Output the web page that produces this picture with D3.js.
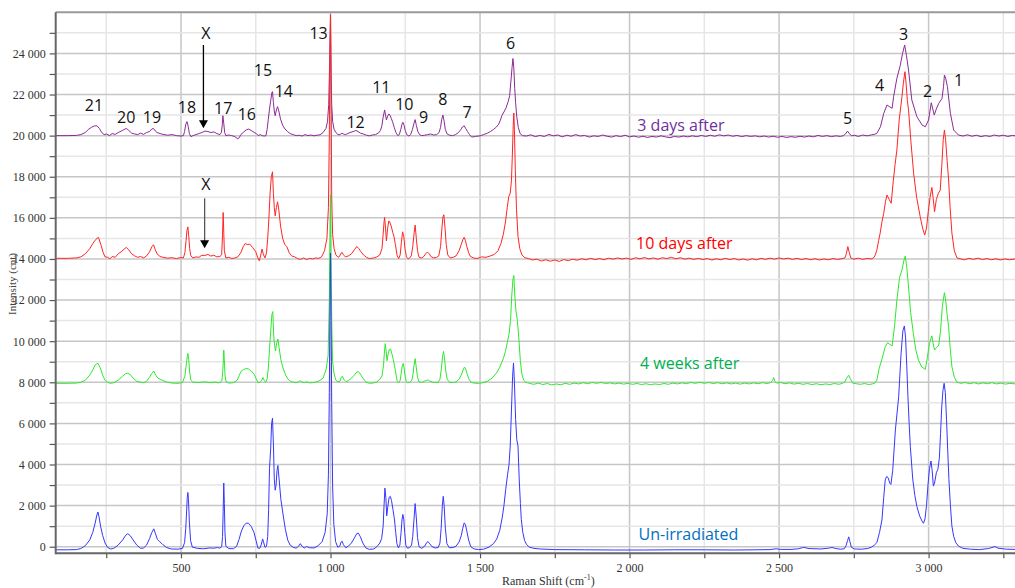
<!DOCTYPE html>
<html>
<head>
<meta charset="utf-8">
<script src="https://cdn.jsdelivr.net/npm/d3@7"></script>
<style>
  body { margin: 0; background: #fff; }
  svg { display: block; }
</style>
</head>
<body>
<svg id="chart"></svg>
<script>
const width = 1015, height = 588;
const plot = { left: 55.7, right: 1015.3, top: 12.3, bottom: 553.3 };

// Axis ticks (Raman shift in cm-1, intensity in counts)
const xTicks = [250, 500, 750, 1000, 1250, 1500, 1750, 2000, 2250, 2500, 2750, 3000, 3250];
const xLabelTicks = [500, 1000, 1500, 2000, 2500, 3000];
const yTicks = [0, 1000, 2000, 3000, 4000, 5000, 6000, 7000, 8000, 9000, 10000, 11000, 12000,
  13000, 14000, 15000, 16000, 17000, 18000, 19000, 20000, 21000, 22000, 23000, 24000, 25000];
const yLabelTicks = [0, 2000, 4000, 6000, 8000, 10000, 12000, 14000, 16000, 18000, 20000, 22000, 24000];

// 3 days after (offset baseline ~20 000)
const threeDays = [
  [82,20000],[120,20000],[150,20010],[165,20050],[180,20150],[190,20300],[200,20400],[210,20470],[219,20480],[227,20350],
  [235,20150],[243,20050],[252,20080],[260,20000],[270,20100],[280,20060],[290,20150],[300,20220],[310,20300],[317,20350],
  [325,20260],[335,20120],[345,20080],[355,20050],[365,20120],[375,20060],[385,20150],[395,20200],[402,20320],[408,20350],
  [414,20230],[420,20150],[430,20100],[440,20060],[455,20020],[470,20050],[485,20000],[500,19980],[508,20000],[512,20200],
  [516,20550],[520,20680],[524,20450],[528,20100],[533,19950],[540,20000],[550,20050],[560,20100],[570,20150],[580,20220],
  [590,20200],[600,20150],[610,20180],[620,20100],[630,20050],[635,20150],[638,20500],[640,20970],[643,20600],[646,20150],
  [650,20000],[660,20030],[670,20000],[680,19950],[690,19850],[695,19900],[700,20050],[710,20180],[718,20280],[726,20320],
  [735,20250],[745,20150],[752,20100],[758,20000],[765,20050],[772,20000],[778,19980],[784,20000],[788,20300],[792,20800],
  [796,21300],[800,21700],[804,22100],[806,22140],[809,21600],[812,21200],[815,20970],[819,21250],[823,21410],[827,21200],
  [833,20800],[840,20500],[848,20320],[856,20200],[865,20100],[875,20050],[885,20000],[895,20020],[905,19980],[915,20050],
  [925,20000],[935,20030],[945,19990],[955,20020],[965,20040],[975,20150],[985,20350],[990,20700],[994,21500],[997,23500],
  [1000,25640],[1002,23000],[1004,21500],[1007,20700],[1012,20300],[1018,20150],[1025,20050],[1032,20050],[1038,20120],[1043,20080],
  [1050,20050],[1058,20100],[1065,20150],[1072,20180],[1080,20220],[1085,20250],[1092,20200],[1100,20120],[1110,20080],[1120,20020],
  [1130,19990],[1140,20030],[1150,20050],[1160,20120],[1167,20250],[1172,20500],[1176,20900],[1181,21250],[1184,21000],[1187,20760],
  [1191,20950],[1195,21050],[1199,21000],[1203,20850],[1208,20650],[1213,20400],[1219,20150],[1225,20000],[1230,20050],[1235,20300],
  [1239,20550],[1242,20650],[1246,20500],[1250,20250],[1255,20050],[1262,19980],[1268,20050],[1274,20300],[1279,20600],[1283,20780],
  [1287,20500],[1292,20200],[1298,20050],[1305,20000],[1315,20020],[1325,20050],[1335,20080],[1345,20030],[1355,20050],[1363,20150],
  [1368,20400],[1372,20800],[1376,21000],[1380,20700],[1384,20300],[1390,20080],[1398,20020],[1408,20000],[1418,20050],[1428,20150],
  [1436,20300],[1441,20420],[1447,20480],[1452,20350],[1458,20200],[1465,20050],[1472,19930],[1485,19960],[1500,19990],[1512,20050],
  [1525,20120],[1535,20200],[1545,20300],[1555,20420],[1562,20550],[1568,20750],[1573,20970],[1580,21150],[1587,21350],[1594,21650],
  [1599,21940],[1603,22600],[1607,23300],[1610,23750],[1613,23300],[1616,22300],[1619,21600],[1623,20900],[1628,20400],[1634,20100],
  [1642,20000],[1655,19980],[1670,20040],[1685,19950],[1700,20010],[1715,19960],[1730,20060],[1745,19990],[1760,20030],[1775,19940],
  [1790,20020],[1805,19970],[1820,20050],[1835,19980],[1850,20010],[1865,19930],[1880,19990],[1895,19960],[1910,20030],[1925,19970],
  [1940,19930],[1955,20000],[1970,19950],[1985,20020],[2000,19940],[2015,19980],[2030,19920],[2045,19970],[2060,19910],[2075,19960],
  [2090,19930],[2105,19990],[2120,19940],[2135,19900],[2150,19960],[2165,19930],[2180,19980],[2195,19940],[2210,19990],[2225,19950],
  [2240,20010],[2255,19960],[2270,20020],[2285,19970],[2300,20040],[2315,19990],[2330,20030],[2345,19970],[2360,20010],[2375,19950],
  [2390,20000],[2405,19960],[2420,19990],[2435,19940],[2450,19980],[2465,19930],[2480,19970],[2495,19920],[2510,19960],[2525,19910],
  [2540,19950],[2555,19920],[2570,19970],[2585,19930],[2600,19980],[2615,19940],[2630,20010],[2645,19960],[2660,20000],[2675,19950],
  [2690,19990],[2705,19960],[2715,20000],[2722,20080],[2729,20220],[2735,20100],[2742,19990],[2752,20020],[2765,19960],[2780,20030],
  [2795,19990],[2810,20040],[2820,20070],[2827,20110],[2839,20430],[2850,21080],[2861,21490],[2870,21400],[2878,21330],[2883,21890],
  [2894,22790],[2905,23400],[2913,24000],[2920,24410],[2926,23900],[2933,23190],[2944,21730],[2961,20920],[2978,20520],[2989,20430],
  [3000,20760],[3009,21600],[3014,21300],[3019,21000],[3026,21300],[3034,21570],[3045,21810],[3050,22400],[3053,22950],[3057,22800],
  [3063,22380],[3073,21080],[3084,20270],[3100,20030],[3115,19980],[3130,20040],[3145,19970],[3160,20020],[3175,19950],[3190,20000],
  [3205,19960],[3220,20030],[3235,19980],[3250,20020],[3265,19960],[3280,20010],[3290,19990]
];

// 10 days after (offset baseline ~14 000)
const tenDays = [
  [82,14030],[120,14030],[150,14050],[165,14100],[180,14250],[195,14500],[205,14750],[215,14950],[224,15050],[232,14700],
  [240,14300],[246,14100],[255,14080],[262,14000],[270,14120],[280,14080],[290,14250],[300,14350],[310,14480],[317,14560],
  [325,14450],[335,14250],[345,14150],[355,14080],[365,14120],[375,14050],[385,14150],[395,14350],[403,14600],[408,14690],
  [414,14450],[420,14250],[430,14120],[440,14080],[455,14040],[470,14060],[485,14020],[500,14070],[508,14050],[513,14300],
  [517,14900],[520,15400],[523,15560],[526,15100],[529,14500],[533,14150],[540,14050],[550,14100],[560,14080],[570,14180],
  [580,14170],[590,14220],[600,14140],[610,14180],[620,14100],[630,14120],[636,14200],[639,15200],[641,16260],[643,15300],
  [645,14400],[650,14050],[660,14080],[670,14020],[680,14050],[690,14100],[700,14300],[708,14600],[715,14750],[722,14700],
  [730,14720],[740,14550],[750,14350],[757,14050],[762,13910],[766,14150],[771,14480],[776,14200],[781,14050],[786,14300],
  [790,15000],[794,16000],[798,17200],[802,18000],[806,18240],[809,17200],[812,16500],[815,16100],[819,16500],[823,16780],
  [827,16400],[833,15600],[840,15000],[847,14700],[854,14600],[862,14300],[870,14150],[880,14100],[890,14020],[900,13980],
  [910,14050],[920,13970],[930,14030],[940,14000],[950,14050],[960,14030],[970,14100],[980,14400],[988,15000],[993,16500],
  [996,20000],[998,24000],[1000,25900],[1002,22000],[1004,17000],[1007,15200],[1012,14500],[1018,14200],[1025,14080],[1030,14120],
  [1035,14280],[1039,14320],[1043,14200],[1050,14100],[1060,14150],[1070,14250],[1080,14450],[1088,14610],[1095,14500],[1102,14350],
  [1110,14200],[1120,14080],[1130,14020],[1145,14050],[1155,14100],[1165,14200],[1172,14500],[1176,15200],[1179,15800],[1181,16020],
  [1184,15500],[1187,14880],[1191,15500],[1195,15850],[1198,15800],[1203,15600],[1208,15300],[1212,15100],[1217,14700],[1223,14150],
  [1228,14020],[1233,14200],[1237,14800],[1241,15320],[1245,15100],[1249,14500],[1254,14100],[1260,14000],[1265,14050],[1270,14150],
  [1275,14600],[1280,15300],[1283,15650],[1287,15000],[1291,14400],[1296,14080],[1305,14050],[1312,14120],[1318,14250],[1324,14340],
  [1330,14250],[1337,14100],[1345,14050],[1355,14080],[1362,14150],[1368,14600],[1372,15400],[1376,16050],[1379,16150],[1383,15500],
  [1387,14700],[1392,14200],[1400,14050],[1410,14080],[1420,14150],[1430,14400],[1437,14700],[1443,14950],[1447,15050],[1451,14900],
  [1456,14600],[1462,14300],[1468,14120],[1478,14050],[1490,14020],[1505,14100],[1520,14080],[1535,14150],[1548,14220],[1560,14400],
  [1570,14750],[1578,15200],[1585,15800],[1591,16500],[1596,17030],[1601,17200],[1605,17800],[1608,19000],[1611,20500],[1613,21100],
  [1615,20300],[1618,18300],[1622,16400],[1627,15100],[1633,14500],[1640,14200],[1650,14060],[1662,14020],[1675,13950],[1690,13990],
  [1705,13900],[1720,13960],[1735,13890],[1750,13950],[1765,13880],[1780,13970],[1795,13920],[1810,13990],[1825,13940],[1840,14010],
  [1855,13960],[1870,14030],[1885,13970],[1900,14020],[1915,13960],[1930,14040],[1945,13990],[1960,14050],[1975,14000],[1990,14040],
  [2005,13980],[2020,14060],[2035,14010],[2050,14070],[2065,14000],[2080,14050],[2095,13990],[2110,14060],[2125,14020],[2140,14080],
  [2155,14010],[2170,14060],[2185,13990],[2200,14040],[2215,13980],[2230,14030],[2245,13970],[2260,14020],[2275,13950],[2290,14010],
  [2305,13960],[2320,14030],[2335,13970],[2350,14020],[2365,13950],[2380,14000],[2395,13940],[2410,14010],[2425,13960],[2440,14030],
  [2455,13980],[2470,14040],[2485,13990],[2500,14050],[2515,14000],[2530,14040],[2545,13980],[2560,14030],[2575,13970],[2590,14020],
  [2605,13960],[2620,14010],[2635,13950],[2650,14000],[2665,13960],[2680,14020],[2695,13980],[2710,14010],[2720,14050],[2725,14250],
  [2730,14600],[2735,14300],[2740,14050],[2750,13990],[2765,14040],[2780,13980],[2795,14030],[2808,14000],[2816,14050],[2822,14200],
  [2827,14430],[2833,14900],[2838,15250],[2844,15800],[2850,16220],[2856,16800],[2861,17110],[2868,16900],[2875,16710],[2882,17800],
  [2888,18600],[2894,19300],[2902,20800],[2911,21890],[2916,22600],[2921,23110],[2925,22500],[2929,21700],[2933,21250],[2941,19700],
  [2950,18170],[2960,17000],[2972,16050],[2980,15500],[2987,15160],[2993,15500],[2999,16300],[3005,17000],[3011,17480],[3015,17000],
  [3020,16300],[3026,16900],[3033,17200],[3039,17350],[3044,18500],[3049,19800],[3053,20270],[3057,19800],[3062,18800],[3067,17840],
  [3072,16500],[3078,15260],[3086,14400],[3095,14050],[3105,14010],[3120,13960],[3135,14030],[3150,13980],[3165,14040],[3180,13970],
  [3195,14020],[3210,13960],[3225,14010],[3240,13950],[3255,14000],[3270,13960],[3290,14000]
];

// 4 weeks after (offset baseline ~8 000)
const fourWeeks = [
  [82,7950],[120,7950],[150,7960],[165,8000],[180,8100],[195,8350],[205,8600],[213,8850],[222,8930],[230,8700],
  [238,8350],[246,8100],[255,7990],[265,7950],[275,7980],[290,8100],[305,8300],[315,8420],[322,8440],[330,8380],
  [340,8200],[352,8050],[365,8000],[375,7980],[385,8050],[395,8250],[402,8420],[409,8550],[415,8350],[423,8200],
  [430,8150],[440,8080],[455,8000],[470,7960],[490,7950],[505,7990],[513,8300],[518,8900],[521,9250],[523,9400],
  [526,9100],[529,8500],[533,8100],[540,8000],[560,7990],[580,8020],[600,7980],[615,8010],[625,7970],[632,8000],
  [637,8100],[640,8600],[642,9200],[643,9570],[645,9100],[647,8400],[650,8050],[660,7960],[675,7980],[688,8100],
  [695,8350],[702,8550],[710,8620],[718,8670],[726,8650],[735,8550],[745,8380],[752,8150],[758,7970],[764,8000],
  [770,8100],[774,8230],[778,8100],[783,8000],[788,8150],[792,8700],[796,9600],[800,10500],[804,11300],[807,11440],
  [810,10300],[813,9800],[816,9520],[820,9900],[824,10100],[828,9700],[834,9100],[841,8700],[850,8350],[858,8150],
  [866,8050],[875,8000],[885,7980],[893,8020],[899,8080],[905,8010],[912,7980],[920,8020],[930,7970],[945,7990],
  [960,8050],[975,8200],[985,8600],[992,9300],[996,12000],[998,15000],[1000,17100],[1002,14000],[1004,11000],[1007,9000],
  [1012,8400],[1018,8100],[1025,8020],[1032,8060],[1036,8250],[1040,8300],[1044,8150],[1052,8030],[1060,8080],[1070,8200],
  [1080,8350],[1088,8500],[1093,8520],[1100,8400],[1108,8200],[1118,8020],[1130,7950],[1145,7970],[1155,8020],[1165,8150],
  [1172,8300],[1177,8800],[1180,9400],[1183,9880],[1186,9500],[1189,9050],[1193,9400],[1197,9600],[1201,9610],[1205,9400],
  [1210,9100],[1214,8800],[1219,8400],[1223,8050],[1228,7980],[1233,8100],[1237,8500],[1240,8800],[1243,8920],[1246,8700],
  [1249,8350],[1253,8050],[1258,7970],[1265,8000],[1272,8100],[1276,8400],[1279,8800],[1283,9150],[1287,8700],[1291,8250],
  [1296,8020],[1305,7990],[1315,8060],[1322,8100],[1327,8110],[1332,8060],[1340,8010],[1350,7990],[1360,8000],[1366,8150],
  [1371,8700],[1375,9300],[1378,9500],[1381,9200],[1385,8600],[1390,8150],[1398,8000],[1410,7990],[1420,8020],[1430,8150],
  [1437,8350],[1442,8550],[1448,8740],[1452,8650],[1457,8400],[1463,8150],[1470,8000],[1480,7960],[1495,7950],[1510,7980],
  [1525,8050],[1540,8200],[1555,8450],[1565,8700],[1572,8950],[1578,9150],[1585,9500],[1592,10000],[1597,10340],[1602,11000],
  [1606,12200],[1610,13000],[1613,13200],[1616,12300],[1620,11500],[1625,11000],[1630,10100],[1635,9000],[1640,8400],[1646,8100],
  [1653,8000],[1665,7950],[1680,7900],[1695,7960],[1710,7890],[1725,7940],[1740,7870],[1755,7920],[1770,7880],[1785,7950],
  [1800,7900],[1815,7960],[1830,7920],[1845,7980],[1860,7930],[1875,7990],[1890,7950],[1905,7990],[1920,7940],[1935,7970],
  [1950,7920],[1965,7960],[1980,7910],[1995,7950],[2010,7900],[2025,7940],[2040,7890],[2055,7930],[2070,7880],[2085,7920],
  [2100,7890],[2115,7940],[2130,7900],[2145,7960],[2160,7920],[2175,7970],[2190,7930],[2205,7990],[2220,7950],[2235,8000],
  [2250,7950],[2265,7990],[2280,7940],[2295,7980],[2310,7930],[2325,7970],[2340,7920],[2355,7960],[2370,7910],[2385,7960],
  [2400,7920],[2415,7970],[2430,7930],[2445,7980],[2460,7940],[2472,7990],[2478,8080],[2482,8230],[2486,8050],[2492,7960],
  [2505,7990],[2520,7930],[2535,7970],[2550,7910],[2565,7950],[2580,7900],[2595,7940],[2610,7890],[2625,7930],[2640,7880],
  [2655,7920],[2670,7890],[2685,7940],[2700,7900],[2712,7950],[2720,8020],[2726,8200],[2733,8340],[2739,8150],[2746,7960],
  [2758,7930],[2772,7900],[2786,7940],[2800,7890],[2812,7920],[2820,7960],[2827,8100],[2835,8700],[2844,9120],[2855,9730],
  [2863,9925],[2870,9850],[2878,9770],[2886,10700],[2894,12000],[2903,13100],[2911,13460],[2917,13900],[2922,14140],[2927,13600],
  [2932,12810],[2940,11400],[2949,10380],[2957,9600],[2966,9080],[2977,8750],[2989,8630],[2996,9200],[3003,9900],[3011,10260],
  [3015,9900],[3020,9570],[3027,9700],[3034,9810],[3040,10500],[3046,11700],[3053,12360],[3057,12000],[3062,11300],[3067,10700],
  [3072,9700],[3078,8760],[3086,8250],[3095,8000],[3108,7950],[3122,7990],[3137,7930],[3152,7980],[3167,7920],[3182,7970],
  [3197,7930],[3212,7980],[3227,7920],[3242,7960],[3257,7910],[3272,7950],[3290,7920]
];

// Un-irradiated (no offset)
const unirradiated = [
  [82,-150],[120,-150],[150,-140],[165,-90],[180,50],[195,330],[205,700],[213,1150],[218,1500],[222,1690],
  [226,1450],[231,1000],[238,550],[246,180],[255,-40],[265,-110],[275,-80],[290,80],[305,330],[315,560],
  [322,630],[330,540],[340,330],[352,80],[365,-80],[375,-60],[385,80],[395,400],[402,680],[409,870],
  [415,620],[421,360],[428,260],[438,120],[452,-40],[467,-110],[490,-120],[505,-80],[512,200],[516,900],
  [519,1800],[521,2400],[523,2640],[525,2300],[528,1200],[532,300],[538,-20],[555,-80],[575,-100],[595,-60],
  [610,-70],[622,-40],[630,-70],[636,0],[639,500],[641,1700],[643,3100],[645,2100],[647,700],[650,20],
  [660,-90],[675,-100],[686,20],[694,350],[702,760],[710,1020],[718,1150],[726,1140],[735,980],[744,700],
  [751,300],[757,-60],[763,-80],[768,80],[773,380],[777,180],[781,-30],[786,20],[790,500],[793,1800],
  [796,3800],[800,4800],[803,6000],[806,6250],[809,5000],[812,3300],[815,2750],[818,3000],[821,3700],[824,3950],
  [828,3300],[834,2300],[841,1600],[849,850],[857,320],[865,80],[875,-30],[885,-70],[893,20],[899,150],
  [905,20],[912,-60],[920,10],[930,-50],[945,-60],[958,40],[972,250],[982,700],[989,1600],[993,3500],
  [996,7500],[998,11500],[1000,14280],[1002,11000],[1004,7000],[1007,3000],[1011,1100],[1017,250],[1024,-20],[1031,20],
  [1035,220],[1039,270],[1043,100],[1051,-50],[1060,30],[1070,180],[1080,430],[1088,640],[1093,660],[1100,480],
  [1108,180],[1118,-60],[1130,-130],[1145,-110],[1155,0],[1165,180],[1171,400],[1176,1000],[1179,2000],[1182,2850],
  [1185,2400],[1188,1500],[1192,2000],[1196,2400],[1200,2450],[1204,2250],[1209,1800],[1214,1300],[1218,700],[1222,150],
  [1227,-60],[1232,80],[1236,700],[1239,1300],[1242,1570],[1245,1350],[1248,700],[1252,60],[1257,-70],[1264,-50],
  [1271,80],[1275,500],[1279,1300],[1283,2100],[1287,1400],[1291,450],[1296,0],[1305,-80],[1315,30],[1321,190],
  [1326,250],[1332,140],[1340,0],[1350,-60],[1360,-40],[1366,180],[1370,900],[1374,2000],[1377,2450],[1380,2000],
  [1384,900],[1389,160],[1397,-50],[1410,-40],[1420,30],[1430,230],[1437,530],[1442,880],[1447,1160],[1451,1080],
  [1456,750],[1462,320],[1469,0],[1480,-110],[1495,-140],[1512,-120],[1530,-20],[1545,150],[1556,380],[1566,800],
  [1574,1400],[1580,2000],[1586,2800],[1592,3500],[1597,4000],[1601,4900],[1605,6600],[1609,8300],[1612,8940],[1615,8000],
  [1619,6200],[1623,5200],[1627,4900],[1631,3300],[1635,2100],[1638,1330],[1643,700],[1649,300],[1656,100],[1665,-20],
  [1680,-80],[1700,-110],[1750,-140],[1850,-150],[1950,-160],[2050,-160],[2150,-150],[2250,-150],[2350,-160],[2420,-150],
  [2470,-140],[2490,-100],[2505,-130],[2540,-130],[2565,-100],[2582,-30],[2600,-90],[2640,-110],[2665,-70],[2677,-40],
  [2690,-90],[2705,-120],[2718,-100],[2724,50],[2729,300],[2733,480],[2737,250],[2742,-30],[2752,-110],[2775,-120],
  [2795,-90],[2808,-30],[2818,70],[2827,200],[2836,700],[2844,1300],[2850,2400],[2855,3250],[2860,3420],[2865,3350],
  [2870,3100],[2874,3030],[2880,3700],[2889,5680],[2900,7300],[2908,9400],[2914,10500],[2919,10740],[2923,10200],[2927,8800],
  [2931,7300],[2935,6000],[2939,4870],[2947,3300],[2954,2500],[2961,1950],[2970,1500],[2978,1250],[2983,1140],[2988,1350],
  [2993,2000],[2998,3000],[3003,3800],[3008,4170],[3012,3700],[3016,2950],[3020,3100],[3026,3600],[3031,3760],[3036,4300],
  [3040,5500],[3044,6800],[3048,7600],[3052,7950],[3056,7500],[3060,6200],[3064,4700],[3068,3280],[3073,2000],[3078,1000],
  [3084,500],[3091,200],[3100,30],[3115,-80],[3140,-120],[3170,-140],[3200,-90],[3212,-40],[3222,10],[3232,-70],
  [3260,-120],[3290,-130]
];

// Series, drawn bottom to top
const seriesNames = ["3 days after", "10 days after", "4 weeks after", "Un-irradiated"];
const seriesData = [threeDays, tenDays, fourWeeks, unirradiated];
const lineColors = ["#8a2a96", "#ff2424", "#2ee82e", "#3636ff"];
const labelColors = ["#7030a0", "#ff0000", "#00b050", "#0070c0"];
const labelPos = [[2026, 20515], [2022, 14775], [2035, 8950], [2030, 618]];

// Peak numbers: [shift, intensity, text]
const peakLabels = [
  [209, 21480, "21"], [317, 20890, "20"], [403, 20920, "19"], [520, 21380, "18"], [583, 24980, "X"],
  [641, 21330, "17"], [720, 21050, "16"], [774, 23190, "15"], [844, 22180, "14"], [960, 24980, "13"],
  [1084, 20650, "12"], [1170, 22350, "11"], [1247, 21520, "10"], [1311, 20920, "9"], [1376, 21780, "8"],
  [1457, 21130, "7"], [1602, 24490, "6"], [2729, 20840, "5"], [2836, 22460, "4"], [2916, 24930, "3"],
  [2997, 22180, "2"], [3100, 22700, "1"], [583, 17650, "X"]
];
// Arrows: [shift, from intensity, to intensity]
const arrows = [[575, 24410, 20355], [579, 16950, 14520]];
const arrowColors = ["#000", "#555"];

const svg = d3.select("#chart")
  .attr("width", width)
  .attr("height", height)
  .attr("viewBox", [0, 0, width, height]);

const x = d3.scaleLinear().domain([81, 3290]).range([plot.left, plot.right]);
const y = d3.scaleLinear().domain([-320, 26000]).range([plot.bottom, plot.top]);

const fmt = d3.formatLocale({ decimal: ".", thousands: " ", grouping: [3], currency: ["", ""] }).format(",");

// clip
svg.append("defs").append("clipPath").attr("id", "clip")
  .append("rect")
  .attr("x", plot.left).attr("y", plot.top)
  .attr("width", plot.right - plot.left).attr("height", plot.bottom - plot.top);

// gridlines
const grid = svg.append("g").attr("class", "grid");
grid.selectAll(".vgrid")
  .data(xTicks)
  .enter().append("line")
  .attr("x1", d => x(d)).attr("x2", d => x(d))
  .attr("y1", plot.top).attr("y2", plot.bottom)
  .attr("stroke", d => xLabelTicks.includes(d) ? "#c6c6c6" : "#e6e6e6")
  .attr("stroke-width", 1.5);
grid.selectAll(".hgrid")
  .data(yTicks)
  .enter().append("line")
  .attr("x1", plot.left).attr("x2", plot.right)
  .attr("y1", d => y(d)).attr("y2", d => y(d))
  .attr("stroke", d => yLabelTicks.includes(d) ? "#c6c6c6" : "#e6e6e6")
  .attr("stroke-width", 1.5);

// frame
svg.append("line")
  .attr("x1", plot.left).attr("x2", plot.right)
  .attr("y1", plot.top).attr("y2", plot.top)
  .attr("stroke", "#9a9a9a").attr("stroke-width", 2);

// spectra
const line = d3.line()
  .x(d => x(d[0]))
  .y(d => y(d[1]));

const traces = svg.append("g").attr("clip-path", "url(#clip)");
traces.selectAll("path")
  .data(seriesData)
  .enter().append("path")
  .attr("fill", "none")
  .attr("stroke", (d, i) => lineColors[i])
  .attr("stroke-width", 1)
  .attr("stroke-linejoin", "round")
  .attr("d", line);

// axes
const yAxis = svg.append("g")
  .attr("transform", `translate(${plot.left},0)`)
  .call(d3.axisLeft(y)
    .tickValues(yTicks)
    .tickSize(6)
    .tickPadding(4)
    .tickFormat(d => yLabelTicks.includes(d) ? fmt(d) : ""));
yAxis.select(".domain").remove();

const xAxis = svg.append("g")
  .attr("transform", `translate(0,${plot.bottom})`)
  .call(d3.axisBottom(x)
    .tickValues(xTicks)
    .tickSize(5)
    .tickPadding(5)
    .tickFormat(d => xLabelTicks.includes(d) ? fmt(d) : ""));
xAxis.select(".domain").remove();

svg.selectAll(".tick line").attr("stroke", "#555").attr("stroke-width", 1.2);
svg.selectAll(".tick text")
  .attr("fill", "#333")
  .style("font-family", "'Liberation Serif', 'Times New Roman', serif")
  .style("font-size", "12px");

svg.append("line")
  .attr("x1", plot.left).attr("x2", plot.left)
  .attr("y1", plot.top).attr("y2", plot.bottom + 1)
  .attr("stroke", "#666").attr("stroke-width", 2);
svg.append("line")
  .attr("x1", plot.left).attr("x2", plot.right)
  .attr("y1", plot.bottom).attr("y2", plot.bottom)
  .attr("stroke", "#666").attr("stroke-width", 2);

// axis titles
svg.append("text")
  .attr("transform", `translate(16,284)rotate(-90)`)
  .attr("text-anchor", "middle")
  .attr("fill", "#444")
  .style("font-family", "'Liberation Serif', serif")
  .style("font-size", "11px")
  .text("Intensity (cnt)");

const xTitle = svg.append("text")
  .attr("x", 502).attr("y", 585)
  .attr("fill", "#333")
  .style("font-family", "'Liberation Serif', serif")
  .style("font-size", "12px");
xTitle.append("tspan").text("Raman Shift (cm");
xTitle.append("tspan").attr("dy", -5).style("font-size", "8px").text("-1");
xTitle.append("tspan").attr("dy", 5).text(")");

// series labels
svg.append("g").selectAll("text")
  .data(seriesNames)
  .enter().append("text")
  .attr("x", (d, i) => x(labelPos[i][0]))
  .attr("y", (d, i) => y(labelPos[i][1]))
  .attr("dominant-baseline", "central")
  .attr("fill", (d, i) => labelColors[i])
  .style("font-family", "'Open Sans', sans-serif")
  .style("font-size", "16px")
  .text(d => d);

// peak numbers
svg.append("g").selectAll("text")
  .data(peakLabels)
  .enter().append("text")
  .attr("x", d => x(d[0]))
  .attr("y", d => y(d[1]))
  .attr("text-anchor", "middle")
  .attr("dominant-baseline", "central")
  .attr("fill", "#111")
  .style("font-family", "'Open Sans', sans-serif")
  .style("font-size", "16px")
  .text(d => d[2]);

// arrows
const arrowG = svg.append("g");
arrows.forEach((a, i) => {
  const ax = x(a[0]), y0 = y(a[1]), y1 = y(a[2]);
  arrowG.append("line")
    .attr("x1", ax).attr("x2", ax)
    .attr("y1", y0).attr("y2", y1 - 6)
    .attr("stroke", arrowColors[i]).attr("stroke-width", 1.3);
  arrowG.append("path")
    .attr("d", `M${ax - 4.5},${y1 - 8}L${ax + 4.5},${y1 - 8}L${ax},${y1}Z`)
    .attr("fill", "#000");
});
</script>
</body>
</html>
